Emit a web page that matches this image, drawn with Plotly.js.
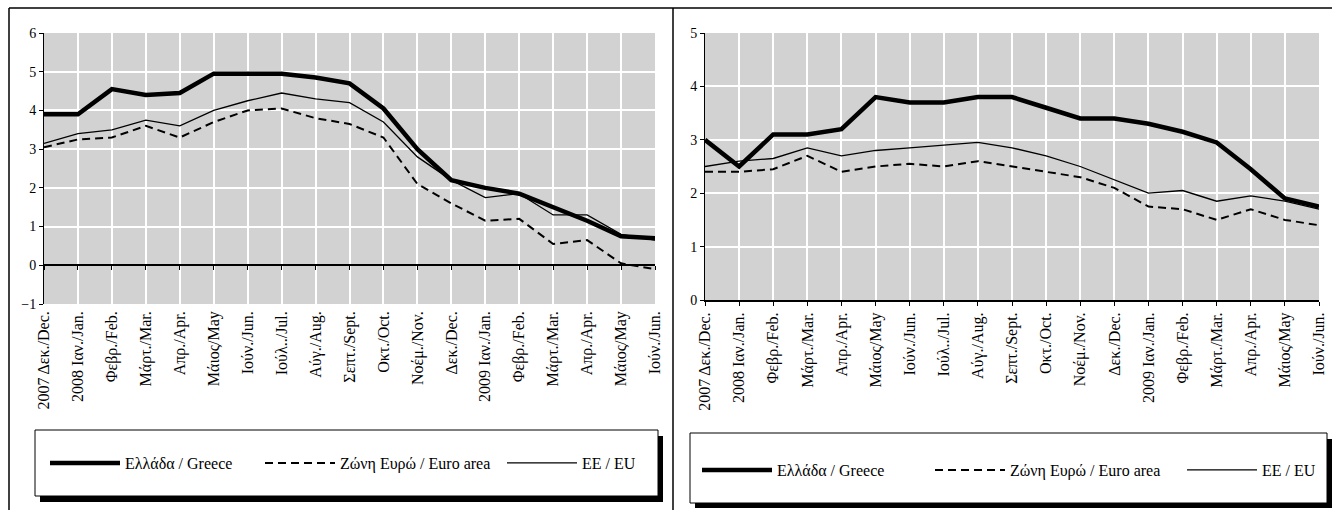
<!DOCTYPE html>
<html><head><meta charset="utf-8">
<script src="https://cdn.plot.ly/plotly-3.0.1.min.js"></script>
<style>html,body{margin:0;padding:0;background:#fff;} #chart{width:1332px;height:510px;}</style>
</head><body><div id="chart"></div>
<script>
const categories = ["2007 Δεκ./Dec.","2008 Ιαν./Jan.","Φεβρ./Feb.","Μάρτ./Mar.","Απρ./Apr.","Μάιος/May","Ιούν./Jun.","Ιούλ../Jul.","Αύγ./Aug.","Σεπτ./Sept.","Οκτ./Oct.","Νοέμ./Nov.","Δεκ./Dec.","2009 Ιαν./Jan.","Φεβρ./Feb.","Μάρτ./Mar.","Απρ./Apr.","Μάιος/May","Ιούν./Jun."];
const seriesNames = ["Ελλάδα / Greece","Ζώνη Ευρώ / Euro area","ΕΕ / EU"];

// Left chart
const greeceLeft = [3.9, 3.9, 4.55, 4.4, 4.45, 4.95, 4.95, 4.95, 4.85, 4.7, 4.05, 3.0, 2.2, 2.0, 1.85, 1.5, 1.15, 0.75, 0.7];
const euroLeft   = [3.05, 3.25, 3.3, 3.6, 3.3, 3.7, 4.0, 4.05, 3.8, 3.65, 3.3, 2.1, 1.6, 1.15, 1.2, 0.55, 0.65, 0.05, -0.1];
const euLeft     = [3.15, 3.4, 3.5, 3.75, 3.6, 4.0, 4.25, 4.45, 4.3, 4.2, 3.7, 2.8, 2.2, 1.75, 1.85, 1.3, 1.3, 0.8, 0.65];

// Right chart
const greeceRight = [3.0, 2.5, 3.1, 3.1, 3.2, 3.8, 3.7, 3.7, 3.8, 3.8, 3.6, 3.4, 3.4, 3.3, 3.15, 2.95, 2.45, 1.9, 1.75];
const euroRight   = [2.4, 2.4, 2.45, 2.7, 2.4, 2.5, 2.55, 2.5, 2.6, 2.5, 2.4, 2.3, 2.1, 1.75, 1.7, 1.5, 1.7, 1.5, 1.4];
const euRight     = [2.5, 2.6, 2.65, 2.85, 2.7, 2.8, 2.85, 2.9, 2.95, 2.85, 2.7, 2.5, 2.25, 2.0, 2.05, 1.85, 1.95, 1.85, 1.7];

const W = 1332, H = 510;
const fx = x => x / W, fy = y => 1 - y / H;
const FONT = "Liberation Serif";
const idx = categories.map((_, i) => i);

const styles = [
  {color: '#000', width: 4.5},
  {color: '#000', width: 2, dash: '8px,5px'},
  {color: '#000', width: 1.3}
];

function trace(y, k, xa, ya, leg) {
  return {x: idx, y: y, type: 'scatter', mode: 'lines', name: seriesNames[k],
    xaxis: xa, yaxis: ya, line: styles[k], legend: leg, hoverinfo: 'skip', showlegend: true};
}

const data = [
  trace(greeceLeft, 0, 'x', 'y', 'legend'),
  trace(euroLeft, 1, 'x', 'y', 'legend2'),
  trace(euLeft, 2, 'x3', 'y', 'legend3'),
  trace(greeceRight, 0, 'x2', 'y2', 'legend4'),
  trace(euroRight, 1, 'x2', 'y2', 'legend5'),
  trace(euRight, 2, 'x2', 'y2', 'legend6')
];

const xTickFont = {family: FONT, size: 16, color: '#000'};
const yTickFont = {family: FONT, size: 14, color: '#000'};
const xCommon = {range: [0, 18], tickmode: 'array', tickvals: idx, ticktext: categories,
  tickangle: -90, tickfont: xTickFont, showgrid: true, gridcolor: '#ffffff', gridwidth: 2,
  zeroline: false, fixedrange: true};
const yCommon = {dtick: 1, tick0: 0, showline: true, linecolor: '#000', linewidth: 1,
  ticks: 'outside', ticklen: 4, tickcolor: '#000', tickfont: yTickFont,
  showgrid: true, gridcolor: '#ffffff', gridwidth: 2, zeroline: false, fixedrange: true};

function legendAt(xpx, ypx) {
  return {x: fx(xpx), y: fy(ypx), xanchor: 'left', yanchor: 'middle', orientation: 'h',
    bgcolor: 'rgba(0,0,0,0)', borderwidth: 0, itemwidth: 70,
    font: {family: FONT, size: 16, color: '#000'}, itemclick: false, itemdoubleclick: false};
}

const frame = {color: '#000', width: 1.5};
const shapes = [
  {type: 'line', xref: 'paper', yref: 'paper', x0: fx(9), x1: fx(9), y0: fy(8), y1: fy(515), line: frame},
  {type: 'line', xref: 'paper', yref: 'paper', x0: fx(9), x1: fx(1332), y0: fy(8), y1: fy(8), line: frame},
  {type: 'line', xref: 'paper', yref: 'paper', x0: fx(673), x1: fx(673), y0: fy(8), y1: fy(515), line: frame},
  // legend boxes with drop shadows
  {type: 'rect', xref: 'paper', yref: 'paper', x0: fx(40), x1: fx(663), y0: fy(436), y1: fy(502), fillcolor: '#000', line: {width: 0}},
  {type: 'rect', xref: 'paper', yref: 'paper', x0: fx(35), x1: fx(658), y0: fy(430), y1: fy(496), fillcolor: '#fff', line: {color: '#000', width: 1}},
  {type: 'rect', xref: 'paper', yref: 'paper', x0: fx(695), x1: fx(1332), y0: fy(439), y1: fy(508), fillcolor: '#000', line: {width: 0}},
  {type: 'rect', xref: 'paper', yref: 'paper', x0: fx(690), x1: fx(1327), y0: fy(433), y1: fy(503), fillcolor: '#fff', line: {color: '#000', width: 1}}
];

const layout = {
  width: W, height: H, autosize: false,
  margin: {l: 0, r: 0, t: 0, b: 0, pad: 0},
  paper_bgcolor: '#ffffff', plot_bgcolor: '#d2d2d2',
  font: {family: FONT, color: '#000'},
  xaxis: Object.assign({}, xCommon, {domain: [fx(44), fx(655)], anchor: 'y', showline: false, ticks: '', ticklabelstandoff: 3}),
  yaxis: Object.assign({}, yCommon, {domain: [fy(304), fy(33)], range: [-1, 6], anchor: 'x'}),
  xaxis3: {overlaying: 'x', anchor: 'free', position: fy(265), range: [0, 18], tickmode: 'array',
    tickvals: idx, showticklabels: false, ticks: 'outside', ticklen: 4, tickcolor: '#000',
    showline: true, linecolor: '#000', linewidth: 2, showgrid: false, zeroline: false, fixedrange: true},
  xaxis2: Object.assign({}, xCommon, {domain: [fx(705), fx(1319)], anchor: 'y2', showline: true,
    linecolor: '#000', linewidth: 2, ticks: 'outside', ticklen: 4, tickcolor: '#000'}),
  yaxis2: Object.assign({}, yCommon, {domain: [fy(300), fy(33)], range: [0, 5], anchor: 'x2'}),
  legend: legendAt(45, 463),
  legend2: legendAt(260, 463),
  legend3: legendAt(502, 463),
  legend4: legendAt(697, 470),
  legend5: legendAt(930, 470),
  legend6: legendAt(1182, 470),
  shapes: shapes
};

Plotly.newPlot('chart', data, layout, {staticPlot: true, displayModeBar: false});
</script></body></html>
